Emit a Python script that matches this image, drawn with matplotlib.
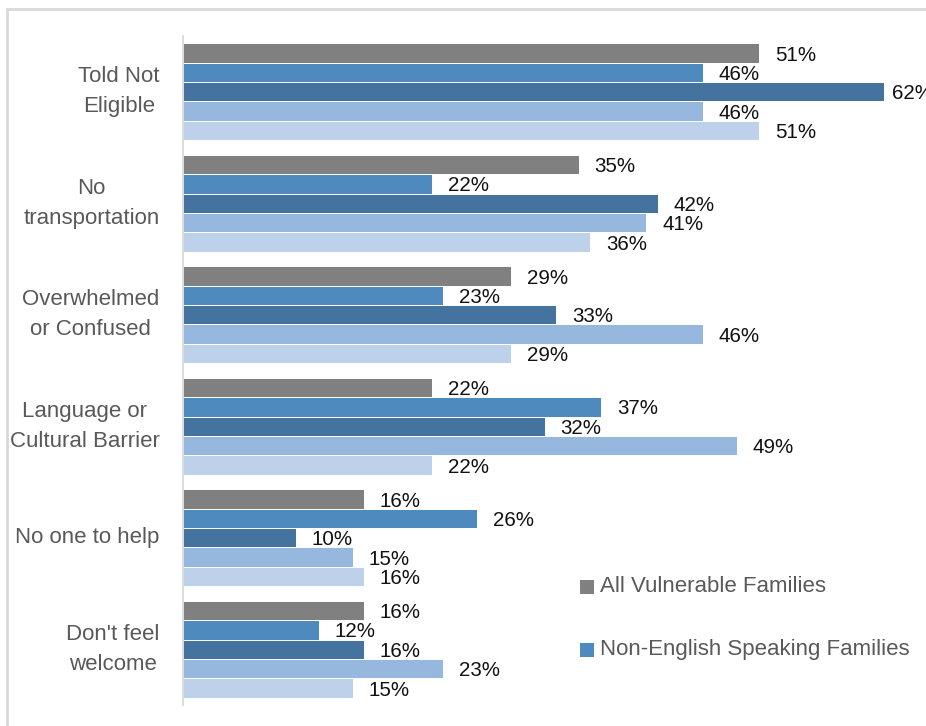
import matplotlib
matplotlib.use("Agg")
import matplotlib.pyplot as plt
from matplotlib.patches import Rectangle
import numpy as np

plt.rcParams['font.family'] = ['Liberation Sans', 'DejaVu Sans']

categories = ["Told Not\nEligible", "No\ntransportation", "Overwhelmed\nor Confused",
              "Language or\nCultural Barrier", "No one to help", "Don't feel\nwelcome"]
series_names = ["All Vulnerable Families", "Non-English Speaking Families",
                "Series 3", "Series 4", "Series 5"]
all_vulnerable = [51, 35, 29, 22, 16, 16]
non_english = [46, 22, 23, 37, 26, 12]
series3 = [62, 42, 33, 32, 10, 16]
series4 = [46, 41, 46, 49, 15, 23]
series5 = [51, 36, 29, 22, 16, 15]
series_values = [all_vulnerable, non_english, series3, series4, series5]
colors = ["#808080", "#4f8abe", "#44739f", "#96b8df", "#bdd1ea"]

W, H = 926, 726
fig = plt.figure(figsize=(W / 100, H / 100), dpi=100)

# outer frame (partially cropped)
fig.patches.append(Rectangle((6.5 / W, -0.1), 1.2, (H - 9) / H + 0.1,
                             transform=fig.transFigure, fill=False,
                             edgecolor="#d9d9d9", linewidth=2))

ax = fig.add_axes([183 / W, 21 / H, (W - 183) / W, 669 / H])
n = len(series_values)
group_h = 0.87
bar_h = group_h / n
y = np.arange(len(categories))
xmax = (W - 183) / 11.3
ax.set_xlim(0, xmax)
for i, (vals, c) in enumerate(zip(series_values, colors)):
    pos = y - group_h / 2 + bar_h * (i + 0.5)
    bars = ax.barh(pos, vals, height=bar_h, color=c, edgecolor="white",
                   linewidth=0.7, label=series_names[i])
    for b, v in zip(bars, vals):
        near_edge = b.get_width() > xmax * 0.9
        ax.annotate(f"{v}%", (b.get_width(), b.get_y() + b.get_height() / 2),
                    xytext=(6 if near_edge else 11.5, -1.5), textcoords="offset points",
                    ha="left", va="center", fontsize=14.8, color="#111111",
                    annotation_clip=False)

ax.set_ylim(len(categories) - 0.5, -0.5)
ax.set_yticks(y)
ax.set_yticklabels(categories, fontsize=16, color="#595959",
                   multialignment="center", linespacing=1.55, va="center")
ax.tick_params(axis="y", length=0, pad=17)
ax.set_xticks([])
for s in ["top", "right", "bottom"]:
    ax.spines[s].set_visible(False)
ax.spines["left"].set_color("#d9d9d9")
ax.spines["left"].set_linewidth(1.3)

# legend (only first two entries visible)
leg_y = [587, 650]
for k in range(2):
    fig.patches.append(Rectangle((580 / W, (H - leg_y[k] - 7) / H), 14 / W, 14 / H,
                                 transform=fig.transFigure, facecolor=colors[k],
                                 edgecolor="none"))
    fig.text(600 / W, (H - leg_y[k]) / H, series_names[k], fontsize=16,
             color="#595959", ha="left", va="center")

fig.savefig("out.png", dpi=100)
